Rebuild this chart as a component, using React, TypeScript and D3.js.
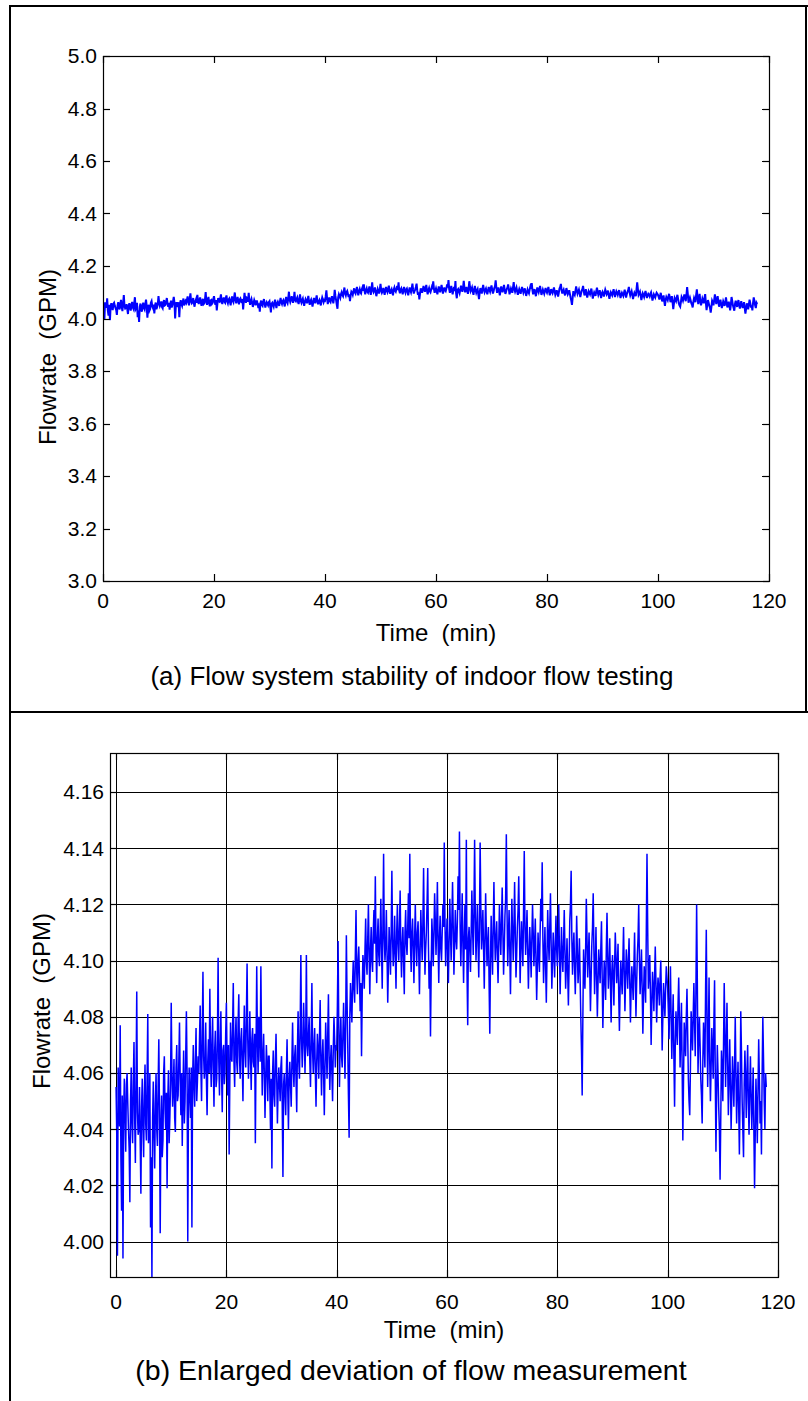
import React from 'react';
import * as d3 from 'd3';

// Flowrate samples (GPM), one every 0.125 min starting at t = 0
const flowrate: number[] = [
  4.055,4.038, 3.995,4.062, 4.050,4.041, 4.077,4.030, 4.011,4.052, 3.994,4.046, 4.058,4.044, 4.032,4.056, 4.060,4.049, 4.040,4.033, 4.014,4.050, 4.062,4.042, 4.035,4.057, 4.071,4.044, 4.028,4.058, 4.089,4.046, 4.038,4.040, 4.055,4.036, 4.017,4.048, 4.058,4.041,
  4.030,4.052, 4.063,4.042, 4.036,4.058, 4.081,4.035, 4.040,4.060, 4.005,4.030, 3.987,4.044, 4.057,4.038, 4.026,4.049, 4.060,4.040, 4.034,4.055, 4.072,4.046, 4.003,4.041, 4.052,4.030, 4.036,4.060, 4.066,4.047, 4.040,4.053, 4.019,4.050, 4.061,4.035, 4.044,4.056,
  4.085,4.060, 4.048,4.055, 4.065,4.044, 4.039,4.062, 4.070,4.050, 4.052,4.064, 4.078,4.058, 4.045,4.060, 4.034,4.054, 4.068,4.042, 4.050,4.066, 4.082,4.060, 4.000,4.048, 4.062,4.052, 4.044,4.062, 4.005,4.057, 4.070,4.055, 4.048,4.064, 4.076,4.050, 4.057,4.066,
  4.060,4.072, 4.084,4.062, 4.050,4.074, 4.096,4.066, 4.058,4.062, 4.078,4.058, 4.045,4.064, 4.072,4.060, 4.090,4.066, 4.055,4.070, 4.080,4.062, 4.048,4.068, 4.075,4.055, 4.058,4.072, 4.101,4.064, 4.052,4.070, 4.082,4.060, 4.046,4.068, 4.070,4.056, 4.060,4.074,
  4.085,4.064, 4.052,4.070, 4.031,4.058, 4.078,4.066, 4.064,4.076, 4.092,4.064, 4.055,4.072, 4.080,4.064, 4.060,4.078, 4.088,4.066, 4.058,4.072, 4.076,4.064, 4.050,4.070, 4.084,4.068, 4.062,4.080, 4.099,4.072, 4.058,4.068, 4.082,4.066, 4.054,4.072, 4.076,4.064,
  4.062,4.074, 4.035,4.068, 4.098,4.072, 4.060,4.080, 4.078,4.064, 4.098,4.070, 4.052,4.066, 4.074,4.060, 4.044,4.058, 4.070,4.062, 4.050,4.066, 4.066,4.054, 4.040,4.058, 4.026,4.060, 4.068,4.052, 4.048,4.064, 4.074,4.058, 4.042,4.054, 4.062,4.056, 4.050,4.062,
  4.066,4.048, 4.023,4.056, 4.060,4.052, 4.045,4.060, 4.072,4.054, 4.040,4.058, 4.064,4.056, 4.048,4.064, 4.078,4.062, 4.055,4.066, 4.070,4.058, 4.046,4.068, 4.082,4.064, 4.058,4.076, 4.102,4.072, 4.062,4.070, 4.085,4.074, 4.060,4.072, 4.102,4.070, 4.066,4.074,
  4.080,4.064, 4.055,4.072, 4.092,4.068, 4.060,4.070, 4.076,4.060, 4.048,4.064, 4.074,4.068, 4.058,4.072, 4.086,4.064, 4.052,4.066, 4.072,4.060, 4.045,4.062, 4.078,4.068, 4.058,4.074, 4.088,4.066, 4.054,4.064, 4.070,4.060, 4.050,4.068, 4.080,4.072, 4.062,4.070,
  4.068,4.084, 4.107,4.076, 4.055,4.070, 4.080,4.066, 4.062,4.074, 4.085,4.072, 4.058,4.078, 4.109,4.086, 4.070,4.052, 4.037,4.080, 4.092,4.085, 4.078,4.092, 4.100,4.090, 4.085,4.102, 4.118,4.096, 4.088,4.100, 4.105,4.094, 4.082,4.092, 4.066,4.088, 4.102,4.098,
  4.090,4.104, 4.115,4.100, 4.095,4.108, 4.120,4.102, 4.088,4.104, 4.112,4.100, 4.096,4.110, 4.118,4.106, 4.130,4.104, 4.092,4.108, 4.115,4.102, 4.098,4.110, 4.122,4.104, 4.090,4.112, 4.138,4.108, 4.100,4.106, 4.118,4.102, 4.085,4.098, 4.112,4.104, 4.095,4.110,
  4.132,4.108, 4.098,4.104, 4.116,4.102, 4.090,4.110, 4.120,4.106, 4.100,4.112, 4.125,4.104, 4.094,4.106, 4.112,4.100, 4.088,4.110, 4.118,4.106, 4.102,4.112, 4.124,4.108, 4.138,4.106, 4.096,4.110, 4.115,4.104, 4.092,4.108, 4.120,4.106, 4.098,4.110, 4.114,4.102,
  4.088,4.104, 4.118,4.108, 4.100,4.114, 4.133,4.110, 4.095,4.104, 4.110,4.120, 4.133,4.106, 4.090,4.100, 4.073,4.096, 4.115,4.108, 4.098,4.110, 4.124,4.114, 4.102,4.112, 4.128,4.106, 4.092,4.108, 4.116,4.104, 4.100,4.110, 4.120,4.112, 4.142,4.114, 4.098,4.106,
  4.115,4.104, 4.092,4.108, 4.122,4.110, 4.100,4.114, 4.128,4.112, 4.095,4.106, 4.118,4.108, 4.104,4.114, 4.130,4.118, 4.146,4.112, 4.098,4.110, 4.124,4.106, 4.092,4.108, 4.120,4.104, 4.143,4.096, 4.077,4.108, 4.112,4.104, 4.096,4.110, 4.125,4.112, 4.102,4.118,
  4.143,4.116, 4.100,4.110, 4.120,4.106, 4.094,4.112, 4.142,4.120, 4.104,4.110, 4.118,4.104, 4.090,4.108, 4.124,4.110, 4.098,4.106, 4.112,4.092, 4.074,4.100, 4.116,4.104, 4.095,4.112, 4.128,4.110, 4.100,4.108, 4.114,4.102, 4.092,4.106, 4.120,4.110, 4.102,4.114,
  4.126,4.110, 4.095,4.104, 4.116,4.122, 4.145,4.118, 4.098,4.108, 4.118,4.104, 4.088,4.106, 4.122,4.110, 4.100,4.112, 4.128,4.110, 4.094,4.102, 4.112,4.118, 4.130,4.112, 4.092,4.104, 4.114,4.106, 4.098,4.118, 4.139,4.112, 4.102,4.110, 4.118,4.104, 4.090,4.102,
  4.112,4.104, 4.094,4.108, 4.120,4.110, 4.098,4.106, 4.115,4.100, 4.086,4.098, 4.110,4.102, 4.096,4.110, 4.122,4.114, 4.135,4.108, 4.092,4.102, 4.112,4.098, 4.085,4.102, 4.118,4.108, 4.100,4.112, 4.124,4.106, 4.090,4.100, 4.110,4.102, 4.094,4.106, 4.116,4.104,
  4.098,4.108, 4.120,4.104, 4.088,4.100, 4.112,4.102, 4.096,4.106, 4.118,4.104, 4.090,4.098, 4.108,4.096, 4.084,4.098, 4.114,4.120, 4.132,4.108, 4.095,4.104, 4.110,4.098, 4.088,4.100, 4.116,4.104, 4.092,4.098, 4.108,4.094, 4.080,4.068, 4.052,4.080, 4.104,4.096,
  4.090,4.104, 4.122,4.108, 4.094,4.102, 4.110,4.096, 4.082,4.094, 4.106,4.112, 4.124,4.104, 4.088,4.098, 4.112,4.094, 4.080,4.092, 4.104,4.098, 4.092,4.104, 4.114,4.094, 4.076,4.090, 4.100,4.094, 4.086,4.104, 4.117,4.102, 4.090,4.098, 4.108,4.092, 4.078,4.096,
  4.102,4.094, 4.084,4.098, 4.110,4.102, 4.092,4.098, 4.106,4.088, 4.075,4.090, 4.100,4.094, 4.088,4.100, 4.112,4.096, 4.082,4.094, 4.104,4.098, 4.090,4.100, 4.108,4.092, 4.078,4.090, 4.098,4.092, 4.086,4.098, 4.110,4.094, 4.080,4.092, 4.102,4.108, 4.120,4.100,
  4.088,4.096, 4.104,4.090, 4.074,4.088, 4.098,4.092, 4.085,4.110, 4.138,4.112, 4.090,4.096, 4.102,4.088, 4.070,4.084, 4.096,4.090, 4.082,4.094, 4.105,4.092, 4.078,4.088, 4.094,4.090, 4.084,4.094, 4.100,4.086, 4.068,4.080, 4.092,4.086, 4.080,4.090, 4.098,4.094,
  4.090,4.082, 4.072,4.086, 4.098,4.080, 4.065,4.078, 4.088,4.066, 4.048,4.070, 4.082,4.076, 4.070,4.084, 4.094,4.080, 4.062,4.074, 4.085,4.062, 4.036,4.058, 4.078,4.072, 4.066,4.080, 4.090,4.074, 4.058,4.050, 4.045,4.062, 4.082,4.076, 4.068,4.080, 4.092,4.078,
  4.066,4.090, 4.120,4.092, 4.060,4.072, 4.080,4.070, 4.058,4.052, 4.042,4.064, 4.078,4.070, 4.062,4.090, 4.111,4.080, 4.055,4.074, 4.094,4.064, 4.050,4.062, 4.076,4.068, 4.058,4.078, 4.093,4.060, 4.032,4.052, 4.070,4.060, 4.048,4.040, 4.022,4.044, 4.068,4.062,
  4.050,4.070, 4.092,4.074, 4.055,4.070, 4.085,4.064, 4.045,4.058, 4.072,4.056, 4.040,4.052, 4.066,4.058, 4.048,4.062, 4.080,4.060, 4.042,4.054, 4.064,4.048, 4.031,4.052, 4.082,4.068, 4.050,4.040, 4.030,4.056, 4.068,4.058, 4.044,4.060, 4.070,4.050, 4.038,4.054,
  4.066,4.052, 4.040,4.050, 4.062,4.040, 4.019,4.038, 4.058,4.048, 4.035,4.054, 4.072,4.058, 4.042,4.050, 4.031,4.060, 4.080,4.065, 4.050,4.040, 4.060,4.055,
];
const timeStart = 0;
const timeStep = 0.125;

const xTicks = [0, 20, 40, 60, 80, 100, 120];
const yTicksA = [3.0, 3.2, 3.4, 3.6, 3.8, 4.0, 4.2, 4.4, 4.6, 4.8, 5.0];
const yTicksB = [4.0, 4.02, 4.04, 4.06, 4.08, 4.1, 4.12, 4.14, 4.16];
const xDomainA = [0, 120];
const yDomainA = [3.0, 5.0];
const xDomainB = [-1.1, 120];
const yDomainB = [3.9874, 4.1739];

const xLabel = 'Time  (min)';
const yLabel = 'Flowrate  (GPM)';
const captionA = '(a) Flow system stability of indoor flow testing';
const captionB = '(b) Enlarged deviation of flow measurement';

const FONT = 'Arial, "Liberation Sans", Helvetica, sans-serif';
const FS = 21;
const LABEL_FS = 24;
const TICK = 7;

type PanelProps = {
  id: string;
  left: number; right: number; top: number; bottom: number;
  xDomain: number[]; yDomain: number[];
  yTicks: number[]; yFmt: (v: number) => string;
  grid: boolean;
  lineWidth: number;
  xTickBaseline: number;
  xLabelBaseline: number;
  yLabelX: number; yLabelY: number;
  caption: string; captionX: number; captionBaseline: number; captionSize: number;
};

function Panel(p: PanelProps) {
  const times = flowrate.map((_, i) => timeStart + i * timeStep);
  const xs = d3.scaleLinear().domain(p.xDomain).range([p.left, p.right]);
  const ys = d3.scaleLinear().domain(p.yDomain).range([p.bottom, p.top]);
  const lineGen = d3.line<number>().x((_, i) => xs(times[i])).y((d) => ys(d));
  const path = lineGen(flowrate) || '';
  const r = (v: number) => Math.round(v) + 0.5;
  return (
    <g>
      <defs>
        <clipPath id={p.id}>
          <rect x={p.left} y={p.top} width={p.right - p.left} height={p.bottom - p.top} />
        </clipPath>
      </defs>
      {p.grid && (
        <g stroke="#000" strokeWidth={1}>
          {xTicks.map((t) => (
            <line key={'gx' + t} x1={r(xs(t))} x2={r(xs(t))} y1={p.top} y2={p.bottom} />
          ))}
          {p.yTicks.map((t) => (
            <line key={'gy' + t} x1={p.left} x2={p.right} y1={r(ys(t))} y2={r(ys(t))} />
          ))}
        </g>
      )}
      <path d={path} fill="none" stroke="#0000ff" strokeWidth={p.lineWidth} clipPath={`url(#${p.id})`} strokeLinejoin="miter" />
      <g stroke="#000" strokeWidth={1.2}>
        <rect x={r(p.left)} y={r(p.top)} width={Math.round(p.right - p.left)} height={Math.round(p.bottom - p.top)} fill="none" />
        {xTicks.map((t) => (
          <g key={'tx' + t}>
            <line x1={r(xs(t))} x2={r(xs(t))} y1={p.bottom} y2={p.bottom - TICK} />
            <line x1={r(xs(t))} x2={r(xs(t))} y1={p.top} y2={p.top + TICK} />
          </g>
        ))}
        {p.yTicks.map((t) => (
          <g key={'ty' + t}>
            <line x1={p.left} x2={p.left + TICK} y1={r(ys(t))} y2={r(ys(t))} />
            <line x1={p.right} x2={p.right - TICK} y1={r(ys(t))} y2={r(ys(t))} />
          </g>
        ))}
      </g>
      <g fontFamily={FONT} fontSize={FS} fill="#000">
        {p.yTicks.map((t) => (
          <text key={'ly' + t} x={p.left - 6} y={ys(t)} dy="0.35em" textAnchor="end">{p.yFmt(t)}</text>
        ))}
        {xTicks.map((t) => (
          <text key={'lx' + t} x={xs(t)} y={p.xTickBaseline} textAnchor="middle">{String(t)}</text>
        ))}
        <text x={(p.left + p.right) / 2} y={p.xLabelBaseline} textAnchor="middle" fontSize={LABEL_FS} style={{ whiteSpace: 'pre' }}>{xLabel}</text>
        <text transform={`translate(${p.yLabelX},${p.yLabelY}) rotate(-90)`} textAnchor="middle" fontSize={LABEL_FS} style={{ whiteSpace: 'pre' }}>{yLabel}</text>
        <text x={p.captionX} y={p.captionBaseline} textAnchor="middle" fontSize={p.captionSize}>{p.caption}</text>
      </g>
    </g>
  );
}

export default function App() {
  return (
    <svg width={808} height={1401} viewBox="0 0 808 1401" style={{ position: 'absolute', left: 0, top: 0, display: 'block', background: '#fff' }}>
      <rect x={0} y={0} width={808} height={1401} fill="#fff" />
      {/* outer frame */}
      <g stroke="#000" strokeWidth={2} fill="none">
        <line x1={10} x2={10} y1={5} y2={1401} />
        <line x1={9} x2={808} y1={6} y2={6} />
        <line x1={806} x2={806} y1={5} y2={713} />
        <line x1={9} x2={808} y1={712} y2={712} />
      </g>
      <Panel
        id="clipA"
        left={103} right={769} top={56} bottom={581}
        xDomain={xDomainA} yDomain={yDomainA}
        yTicks={yTicksA} yFmt={(v) => v.toFixed(1)}
        grid={false} lineWidth={2}
        xTickBaseline={608} xLabelBaseline={641}
        yLabelX={56} yLabelY={357}
        caption={captionA} captionX={412} captionBaseline={685} captionSize={26}
      />
      <Panel
        id="clipB"
        left={110} right={778} top={753} bottom={1277}
        xDomain={xDomainB} yDomain={yDomainB}
        yTicks={yTicksB} yFmt={(v) => v.toFixed(2)}
        grid={true} lineWidth={1.5}
        xTickBaseline={1309} xLabelBaseline={1338}
        yLabelX={50} yLabelY={1001}
        caption={captionB} captionX={411} captionBaseline={1380} captionSize={28.5}
      />
    </svg>
  );
}
